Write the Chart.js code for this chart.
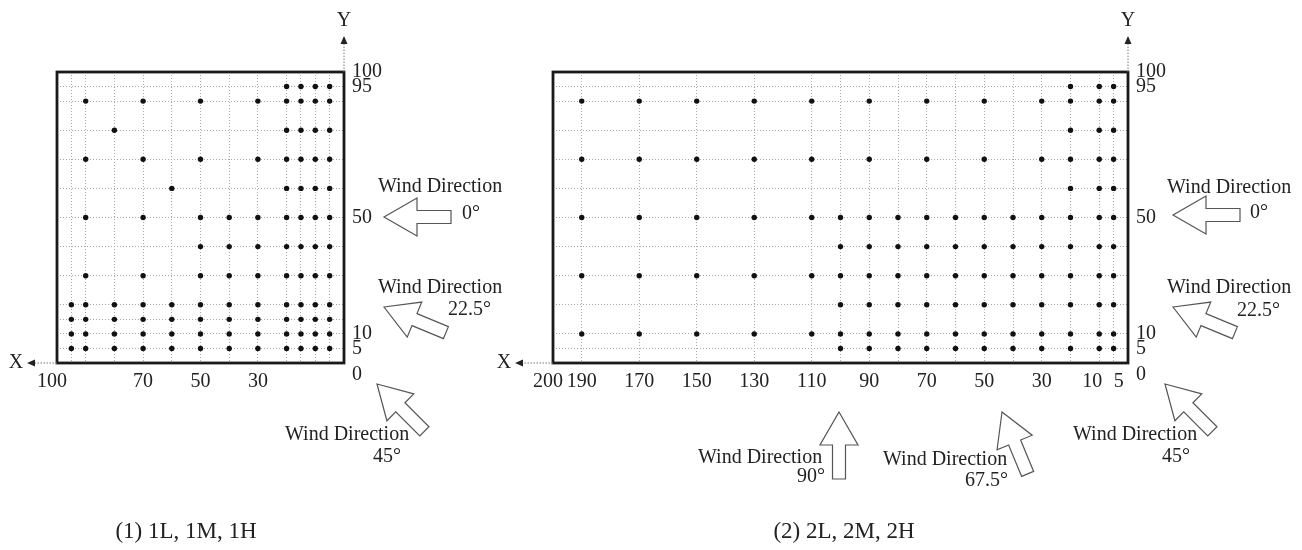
<!DOCTYPE html>
<html>
<head>
<meta charset="utf-8">
<script src="https://cdn.jsdelivr.net/npm/chart.js@4.4.1/dist/chart.umd.min.js"></script>
<style>
  body { margin: 0; background: #fff; width: 1302px; height: 550px; position: relative; overflow: hidden; }
  canvas { position: absolute; top: 0; }
  #grafico1 { left: 0; width: 540px; height: 550px; }
  #grafico2 { left: 480px; width: 822px; height: 550px; }
</style>
</head>
<body>
<canvas id="grafico1" width="540" height="550"></canvas>
<canvas id="grafico2" width="822" height="550"></canvas>
<script>
//datos del grafico (1)
const gridX1 = [0, 5, 10, 15, 20, 30, 40, 50, 60, 70, 80, 90, 95, 100];
const ticksX1 = [100, 70, 50, 30];
const gridY1 = [0, 5, 10, 15, 20, 30, 40, 50, 60, 70, 80, 90, 95, 100];
const ticksY1 = [100, 95, 50, 10, 5, 0];
const filasY1 = [95, 90, 80, 70, 60, 50, 40, 30, 20, 15, 10, 5];
const puntosX1 = [
    [20, 15, 10, 5],
    [90, 70, 50, 30, 20, 15, 10, 5],
    [80, 20, 15, 10, 5],
    [90, 70, 50, 30, 20, 15, 10, 5],
    [60, 20, 15, 10, 5],
    [90, 70, 50, 40, 30, 20, 15, 10, 5],
    [50, 40, 30, 20, 15, 10, 5],
    [90, 70, 50, 40, 30, 20, 15, 10, 5],
    [95, 90, 80, 70, 60, 50, 40, 30, 20, 15, 10, 5],
    [95, 90, 80, 70, 60, 50, 40, 30, 20, 15, 10, 5],
    [95, 90, 80, 70, 60, 50, 40, 30, 20, 15, 10, 5],
    [95, 90, 80, 70, 60, 50, 40, 30, 20, 15, 10, 5]
];

//datos del grafico (2)
const gridX2 = [0, 5, 10, 20, 30, 40, 50, 60, 70, 80, 90, 100, 110, 130, 150, 170, 190, 200];
const ticksX2 = [200, 190, 170, 150, 130, 110, 90, 70, 50, 30, 10, 5];
const gridY2 = [0, 5, 10, 20, 30, 40, 50, 60, 70, 80, 90, 95, 100];
const ticksY2 = [100, 95, 50, 10, 5, 0];
const filasY2 = [95, 90, 80, 70, 60, 50, 40, 30, 20, 10, 5];
const puntosX2 = [
    [20, 10, 5],
    [190, 170, 150, 130, 110, 90, 70, 50, 30, 20, 10, 5],
    [20, 10, 5],
    [190, 170, 150, 130, 110, 90, 70, 50, 30, 20, 10, 5],
    [20, 10, 5],
    [190, 170, 150, 130, 110, 100, 90, 80, 70, 60, 50, 40, 30, 20, 10, 5],
    [100, 90, 80, 70, 60, 50, 40, 30, 20, 10, 5],
    [190, 170, 150, 130, 110, 100, 90, 80, 70, 60, 50, 40, 30, 20, 10, 5],
    [100, 90, 80, 70, 60, 50, 40, 30, 20, 10, 5],
    [190, 170, 150, 130, 110, 100, 90, 80, 70, 60, 50, 40, 30, 20, 10, 5],
    [100, 90, 80, 70, 60, 50, 40, 30, 20, 10, 5]
];

const fuente = "'Liberation Serif', 'Times New Roman', serif";

//etiquetas pegadas: se separan un poco con espacios
function etiquetaX(v) {
    if (v === 200 || v === 100) return v + "\u2002";
    if (v === 10) return "10\u2002\u2009";
    if (v === 5) return "\u2002" + v;
    return String(v);
}

//flecha hueca: punta en (x,y), angulo 0 = hacia la izquierda, 90 = hacia arriba
function flechaHueca(ctx, x, y, angulo) {
    ctx.save();
    ctx.translate(x, y);
    ctx.rotate(angulo * Math.PI / 180);
    ctx.beginPath();
    ctx.moveTo(0, 0);
    ctx.lineTo(33, -19);
    ctx.lineTo(33, -6.5);
    ctx.lineTo(67, -6.5);
    ctx.lineTo(67, 6.5);
    ctx.lineTo(33, 6.5);
    ctx.lineTo(33, 19);
    ctx.closePath();
    ctx.fillStyle = "#fff";
    ctx.fill();
    ctx.strokeStyle = "#555";
    ctx.lineWidth = 1.2;
    ctx.stroke();
    ctx.restore();
}

function crearDecoracion(cfg) {
    return {
        id: "decoracion",
        afterDraw(chart) {
            const ctx = chart.ctx;
            const a = chart.chartArea;
            ctx.save();

            //recuadro
            ctx.strokeStyle = "#1a1a1a";
            ctx.lineWidth = 2.8;
            ctx.strokeRect(a.left, a.top, a.right - a.left, a.bottom - a.top);

            //ejes X e Y con flecha
            ctx.strokeStyle = "#777";
            ctx.lineWidth = 1;
            ctx.setLineDash([1.5, 1.5]);
            ctx.beginPath();
            ctx.moveTo(a.left, a.bottom);
            ctx.lineTo(a.left - cfg.largoX + 6, a.bottom);
            ctx.moveTo(a.right, a.top);
            ctx.lineTo(a.right, a.top - 29);
            ctx.stroke();
            ctx.setLineDash([]);
            ctx.fillStyle = "#222";
            ctx.beginPath();
            ctx.moveTo(a.left - cfg.largoX, a.bottom);
            ctx.lineTo(a.left - cfg.largoX + 8, a.bottom - 3.5);
            ctx.lineTo(a.left - cfg.largoX + 8, a.bottom + 3.5);
            ctx.closePath();
            ctx.moveTo(a.right, a.top - 36);
            ctx.lineTo(a.right - 3.5, a.top - 28);
            ctx.lineTo(a.right + 3.5, a.top - 28);
            ctx.closePath();
            ctx.fill();

            ctx.font = "20px " + fuente;
            ctx.textAlign = "center";
            ctx.textBaseline = "middle";
            ctx.fillText("X", a.left - cfg.largoX - 11, a.bottom);
            ctx.fillText("Y", a.right, a.top - 51);

            //flechas de viento
            cfg.flechas.forEach(f => flechaHueca(ctx, a.right + f.dx, a.top + f.dy, f.ang));

            ctx.fillStyle = "#222";
            ctx.textAlign = "left";
            cfg.textos.forEach(t => ctx.fillText(t.texto, a.right + t.dx, a.top + t.dy));

            //subtitulo
            ctx.font = "23px " + fuente;
            ctx.textAlign = "center";
            ctx.fillText(cfg.subtitulo, cfg.subX, 532);
            ctx.restore();
        }
    };
}

function crearGrafico(id, datos, gridX, ticksX, gridY, ticksY, maxX, padIzq, anchoEjeY, deco) {
    return new Chart(document.getElementById(id), {
        type: "scatter",
        data: {
            datasets: [{
                data: datos,
                pointRadius: 2.7,
                pointBackgroundColor: "#111",
                pointBorderWidth: 0
            }]
        },
        options: {
            responsive: false,
            animation: false,
            layout: { padding: { left: padIzq, top: 72, right: 0, bottom: 0 } },
            plugins: { legend: { display: false }, tooltip: { enabled: false } },
            scales: {
                x: {
                    type: "linear",
                    position: "bottom",
                    reverse: true,
                    min: 0,
                    max: maxX,
                    afterBuildTicks: s => { s.ticks = gridX.map(v => ({ value: v })); },
                    afterFit: s => { s.height = 187; },
                    grid: { color: "#a8a8a8", lineWidth: 1, drawTicks: false },
                    border: { display: false, dash: [1, 2] },
                    ticks: {
                        autoSkip: false,
                        maxRotation: 0,
                        minRotation: 0,
                        padding: 7,
                        color: "#222",
                        font: { family: fuente, size: 20 },
                        callback: v => ticksX.includes(v) ? etiquetaX(v) : ""
                    }
                },
                y: {
                    type: "linear",
                    position: "right",
                    min: 0,
                    max: 100,
                    afterBuildTicks: s => { s.ticks = gridY.map(v => ({ value: v })); },
                    afterFit: s => { s.width = anchoEjeY; },
                    grid: { color: "#a8a8a8", lineWidth: 1, drawTicks: false },
                    border: { display: false, dash: [1, 2] },
                    ticks: {
                        autoSkip: false,
                        padding: 8,
                        color: "#222",
                        font: { family: fuente, size: 20 },
                        callback: v => v === 0 ? ["", "0"] : (ticksY.includes(v) ? String(v) : "")
                    }
                }
            }
        },
        plugins: [deco]
    });
}

const datos1 = filasY1.flatMap((y, i) => puntosX1[i].map(x => ({ x: x, y: y })));
const datos2 = filasY2.flatMap((y, i) => puntosX2[i].map(x => ({ x: x, y: y })));

crearGrafico("grafico1", datos1, gridX1, ticksX1, gridY1, ticksY1, 100, 57, 196, crearDecoracion({
    largoX: 30,
    subtitulo: "(1) 1L, 1M, 1H",
    subX: 186,
    flechas: [
        { dx: 40, dy: 145, ang: 0 },
        { dx: 40, dy: 235, ang: 22.5 },
        { dx: 33, dy: 312, ang: 45 }
    ],
    textos: [
        { texto: "Wind Direction", dx: 34, dy: 115 },
        { texto: "0°", dx: 118, dy: 142 },
        { texto: "Wind Direction", dx: 34, dy: 216 },
        { texto: "22.5°", dx: 104, dy: 238 },
        { texto: "Wind Direction", dx: -59, dy: 363 },
        { texto: "45°", dx: 29, dy: 385 }
    ]
}));

crearGrafico("grafico2", datos2, gridX2, ticksX2, gridY2, ticksY2, 200, 73, 174, crearDecoracion({
    largoX: 38,
    subtitulo: "(2) 2L, 2M, 2H",
    subX: 364,
    flechas: [
        { dx: 45, dy: 143, ang: 0 },
        { dx: 45, dy: 235, ang: 22.5 },
        { dx: 37, dy: 312, ang: 45 },
        { dx: -126, dy: 340, ang: 67.5 },
        { dx: -289, dy: 340, ang: 90 }
    ],
    textos: [
        { texto: "Wind Direction", dx: 39, dy: 116 },
        { texto: "0°", dx: 122, dy: 141 },
        { texto: "Wind Direction", dx: 39, dy: 216 },
        { texto: "22.5°", dx: 109, dy: 239 },
        { texto: "Wind Direction", dx: -55, dy: 363 },
        { texto: "45°", dx: 34, dy: 385 },
        { texto: "Wind Direction", dx: -430, dy: 386 },
        { texto: "90°", dx: -331, dy: 405 },
        { texto: "Wind Direction", dx: -245, dy: 388 },
        { texto: "67.5°", dx: -163, dy: 409 }
    ]
}));
</script>
</body>
</html>
